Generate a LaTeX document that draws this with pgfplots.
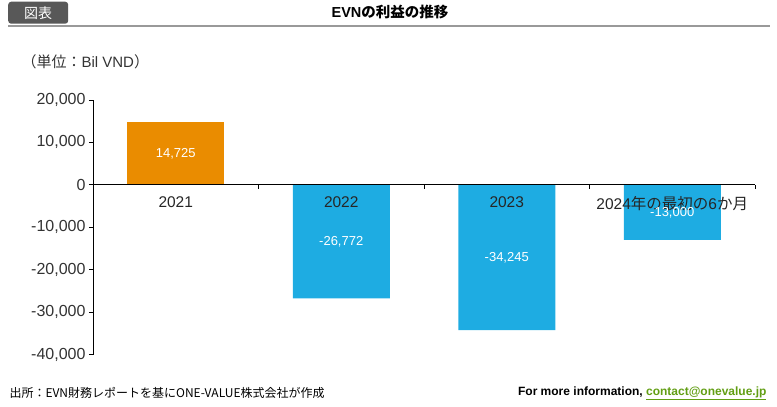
\documentclass[border=0pt]{standalone}
\usepackage{pgfplots}
\pgfplotsset{compat=1.18}
\usepackage{fontspec}
\setmainfont{Liberation Sans}
\newfontfamily\jp{Noto Sans CJK JP}
\definecolor{evnorange}{RGB}{234,140,0}
\definecolor{evnblue}{RGB}{30,172,226}
\definecolor{linkgreen}{RGB}{98,158,20}
\definecolor{boxgray}{RGB}{88,88,88}
\definecolor{labelgray}{RGB}{51,51,51}
\begin{document}
\begin{tikzpicture}
\path[use as bounding box] (0,0) rectangle (777bp,-407bp);
% header
\node[fill=boxgray, rounded corners=3bp, minimum width=60bp, minimum height=22bp,
  anchor=north west, text=white, inner sep=0pt] at (8bp,-1.5bp)
  {\jp\fontsize{14bp}{16bp}\selectfont 図表};
\draw[black!40, line width=1.5bp] (8bp,-26bp) -- (770bp,-26bp);
\node at (390bp,-12bp) {\fontsize{14.5bp}{16bp}\selectfont\bfseries EVN{\jp\bfseries の利益の推移}};
\node[anchor=west, text=labelgray] at (18bp,-62bp)
  {\fontsize{15bp}{17bp}\selectfont{\jp （単位：}Bil VND{\jp ）}};
\begin{axis}[
  at={(93bp,-354.5bp)}, anchor=south west,
  scale only axis, width=662bp, height=254.5bp,
  xmin=-0.5, xmax=3.5, ymin=-40000, ymax=20000,
  axis x line=middle, axis y line=left,
  axis line style={-, black, line width=0.8bp},
  axis on top,
  xtick={0,1,2,3},
  xticklabels={2021,2022,2023,{2024{\jp 年の最初の}6{\jp か月}}},
  major x tick style={draw=none},
  minor xtick={-0.5,0.5,1.5,2.5,3.5},
  ytick={-40000,-30000,-20000,-10000,0,10000,20000},
  tick align=outside, major tick length=4bp, minor tick length=4bp,
  tick style={black, line width=0.8bp},
  scaled y ticks=false,
  /pgf/number format/assume math mode=true,
  /pgf/number format/1000 sep={,},
  y tick label style={text=labelgray, font=\fontsize{16bp}{18bp}\selectfont},
  x tick label style={text=black!85, font=\fontsize{15.5bp}{18bp}\selectfont, yshift=-4bp},
  ybar, bar width=97bp, bar shift=0pt,
  nodes near coords, nodes near coords align={center},
  visualization depends on=y \as \rawy,
  every node near coord/.append style={text=white,
    font=\fontsize{13bp}{15bp}\selectfont,
    shift={(axis direction cs:0,-\rawy/2)}},
]
\addplot[fill=evnorange, draw=none] coordinates {(0,14725)};
\addplot[fill=evnblue, draw=none] coordinates {(1,-26772) (2,-34245) (3,-13000)};
\end{axis}
% footer
\node[anchor=west] at (6bp,-393bp)
  {\jp\fontsize{12bp}{14bp}\selectfont 出所：EVN財務レポートを基にONE-VALUE株式会社が作成};
\node[anchor=east] at (770bp,-393bp)
  {\fontsize{12bp}{14bp}\selectfont\bfseries For more information, \textcolor{linkgreen}{\underline{contact@onevalue.jp}}};
\end{tikzpicture}
\end{document}
